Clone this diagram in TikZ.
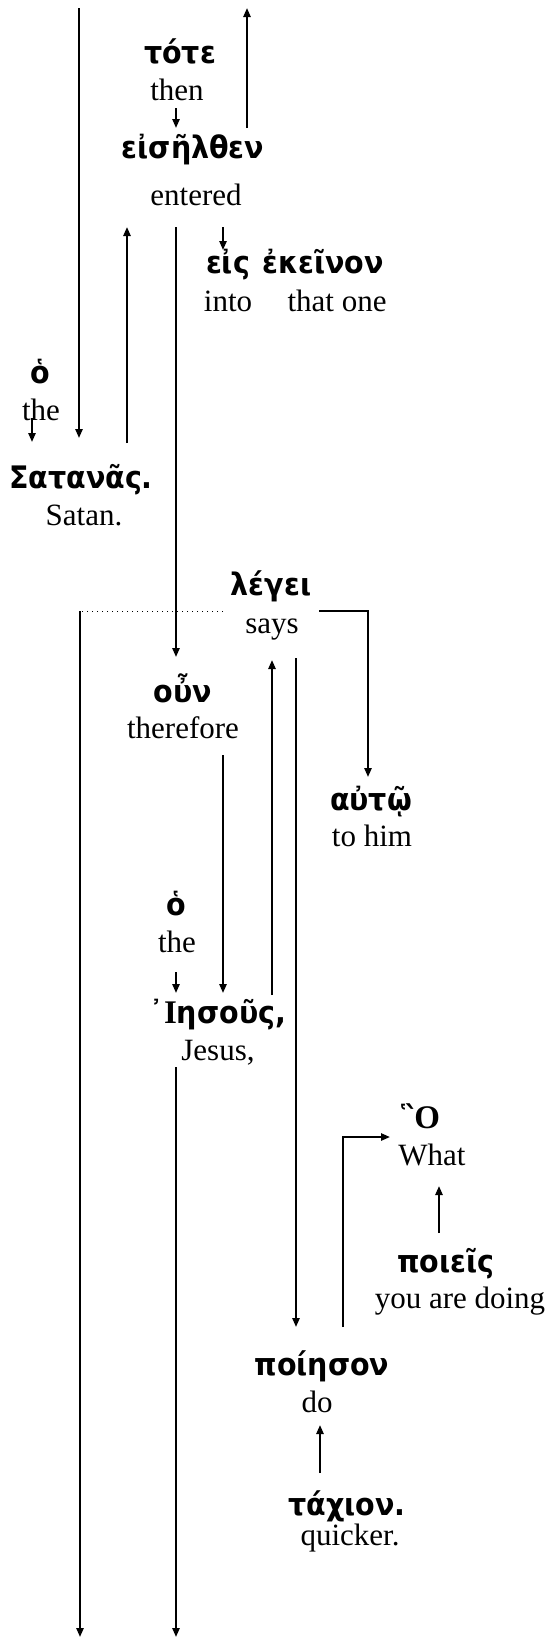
\documentclass[tikz,border=0pt]{standalone}
\usepackage{fontspec}
\setmainfont{Liberation Serif}
\newfontfamily\grfont{DejaVu Sans}[FakeStretch=0.92]
\usetikzlibrary{arrows.meta}
\tikzset{
  gk/.style={inner sep=0pt, anchor=base, font=\grfont\bfseries\fontsize{15.5}{18}\selectfont},
  en/.style={inner sep=0pt, anchor=base, font=\fontsize{15.5}{18}\selectfont},
  conn/.style={line width=1pt},
  arr/.style={conn, -{Triangle[length=4.5pt,width=3.6pt]}},
  dots/.style={line width=0.5pt, dotted}
}
\newcommand{\serifcap}[1]{{\fontspec{Liberation Serif}\bfseries\fontsize{16.5}{18}\selectfont #1}}
\begin{document}
\begin{tikzpicture}[x=0.5pt,y=-0.5pt]
\useasboundingbox (0,0) rectangle (551,1639);
% words
\node[gk] (toteG) at (180,63) {τότε};
\node[en] (toteE) at (177,100) {then};
\node[gk] (eiselG) at (193,158) {εἰσῆλθεν};
\node[en] (eiselE) at (196,205) {entered};
\node[gk] (eisG) at (228,273) {εἰς};
\node[en] (eisE) at (228,311) {into};
\node[gk] (ekeinG) at (323,273) {ἐκεῖνον};
\node[en] (ekeinE) at (337,311) {that one};
\node[gk] (hoaG) at (40,383) {ὁ};
\node[en] (hoaE) at (41,420) {the};
\node[gk] (satanG) at (81,488) {Σατανᾶς.};
\node[en] (satanE) at (84,525) {Satan.};
\node[gk] (legeiG) at (271,595) {λέγει};
\node[en] (legeiE) at (272,633) {says};
\node[gk] (ounG) at (183,702) {οὖν};
\node[en] (ounE) at (183,738) {therefore};
\node[gk] (autoG) at (371,810) {αὐτῷ};
\node[en] (autoE) at (372,846) {to him};
\node[gk] (hobG) at (176,915) {ὁ};
\node[en] (hobE) at (177,952) {the};
\node[gk] (iesG) at (218,1023) {᾿\serifcap{Ι}ησοῦς,};
\node[en] (iesE) at (218,1060) {Jesus,};
\node[gk] (hoG) at (420,1128) {῝\serifcap{Ο}};
\node[en] (hoE) at (432,1165) {What};
\node[gk] (poieisG) at (446,1272) {ποιεῖς};
\node[en] (poieisE) at (460,1308) {you are doing};
\node[gk] (poiesG) at (322,1375) {ποίησον};
\node[en] (poiesE) at (317,1412) {do};
\node[gk] (tachG) at (347,1515) {τάχιον.};
\node[en] (tachE) at (350,1545) {quicker.};
% connector end points
\coordinate (inTop) at (79,8);
\coordinate (satanIn) at (79,438);
\coordinate (eiselOutS) at (247,128);
\coordinate (eiselOutE) at (247,8);
\coordinate (toteS) at (176,108);
\coordinate (eiselInT) at (176,128);
\coordinate (satanS) at (127,443);
\coordinate (eiselInS) at (127,227);
\coordinate (eiselD) at (176,227);
\coordinate (ounIn) at (176,657);
\coordinate (eiselP) at (223,227);
\coordinate (eisIn) at (223,250);
\coordinate (hoaS) at (32,418);
\coordinate (satanInA) at (32,442);
\coordinate (legeiL) at (223,611);
\coordinate (legeiCorner) at (80,611);
\coordinate (legeiBottom) at (80,1637);
\coordinate (legeiR) at (319,611);
\coordinate (legeiRC) at (368,611);
\coordinate (autoIn) at (368,777);
\coordinate (iesUp) at (272,995);
\coordinate (legeiInS) at (272,660);
\coordinate (legeiD) at (296,658);
\coordinate (poiesIn) at (296,1327);
\coordinate (ounD) at (223,755);
\coordinate (iesInA) at (223,993);
\coordinate (hobS) at (176,972);
\coordinate (iesInB) at (176,993);
\coordinate (iesD) at (176,1067);
\coordinate (iesBottom) at (176,1637);
\coordinate (poiesUp) at (343,1327);
\coordinate (poiesC) at (343,1137);
\coordinate (hoIn) at (390,1137);
\coordinate (poieisS) at (439,1233);
\coordinate (hoInB) at (439,1186);
\coordinate (tachS) at (320,1473);
\coordinate (poiesInB) at (320,1425);
% connectors
\draw[arr] (inTop) -- (satanIn);
\draw[arr] (eiselOutS) -- (eiselOutE);
\draw[arr] (toteS) -- (eiselInT);
\draw[arr] (satanS) -- (eiselInS);
\draw[arr] (eiselD) -- (ounIn);
\draw[arr] (eiselP) -- (eisIn);
\draw[arr] (hoaS) -- (satanInA);
\draw[dots] (legeiL) -- (legeiCorner);
\draw[arr] (legeiCorner) -- (legeiBottom);
\draw[arr] (legeiR) -- (legeiRC) -- (autoIn);
\draw[arr] (iesUp) -- (legeiInS);
\draw[arr] (legeiD) -- (poiesIn);
\draw[arr] (ounD) -- (iesInA);
\draw[arr] (hobS) -- (iesInB);
\draw[arr] (iesD) -- (iesBottom);
\draw[arr] (poiesUp) -- (poiesC) -- (hoIn);
\draw[arr] (poieisS) -- (hoInB);
\draw[arr] (tachS) -- (poiesInB);
\end{tikzpicture}
\end{document}
